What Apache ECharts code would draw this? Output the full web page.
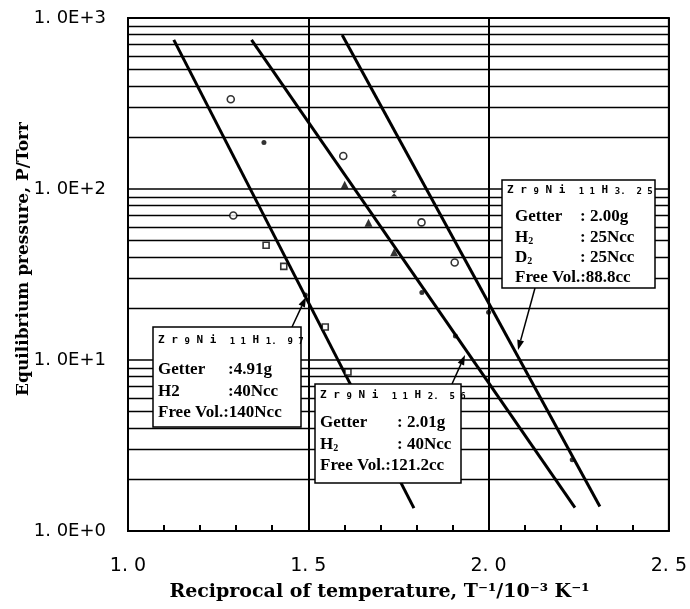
<!DOCTYPE html>
<html>
<head>
<meta charset="utf-8">
<script src="https://cdn.jsdelivr.net/npm/echarts@6/dist/echarts.min.js"></script>
<style>html,body{margin:0;padding:0;background:#fff;}#c{width:690px;height:609px;}</style>
</head>
<body>
<div id="c"></div>
<script>
// ---- data ----
var xTicks = [1.0, 1.5, 2.0, 2.5];
var yDecades = [1, 10, 100, 1000];
var minorGridY = [2,3,4,5,6,7,8,9,20,30,40,50,60,70,80,90,200,300,400,500,600,700,800,900];
// fitted lines (start, end) : [1/T, P]
var lineH197 = [[1.127, 745], [1.793, 1.36]];
var lineH256 = [[1.3425, 745], [2.2395, 1.37]];
var lineH325 = [[1.594, 796], [2.3086, 1.39]];
// measured points by symbol
var ptsCircle = [[1.285, 335], [1.292, 70], [1.597, 156], [1.814, 63.8], [1.906, 37.2]];
var ptsSquare = [[1.383, 46.9], [1.432, 35.3], [1.547, 15.6], [1.610, 8.5]];
var ptsTriangle = [[1.601, 106], [1.667, 63.4], [1.738, 42.6]];
var ptsCross = [[1.738, 94]];
var ptsDot = [[1.377, 187], [1.492, 24], [1.815, 24.8], [1.908, 13.8], [2.0, 19], [2.232, 2.61]];

var chart = echarts.init(document.getElementById('c'), null, {renderer: 'canvas'});

var serifB = 'DejaVu Serif';
var boxFont = 'Liberation Serif';

function lineSeries(d, extra) {
  var s = {type: 'line', data: d, showSymbol: false, symbol: 'none', silent: true,
    lineStyle: {color: '#000', width: 3}, z: 5};
  if (extra) for (var k in extra) s[k] = extra[k];
  return s;
}

function arrow(x1, y1, x2, y2) {
  var dx = x2 - x1, dy = y2 - y1, L = Math.sqrt(dx*dx + dy*dy);
  var ux = dx / L, uy = dy / L, hl = 10, hw = 3.5;
  var bx = x2 - ux*hl, by = y2 - uy*hl;
  return [
    {type: 'line', shape: {x1: x1, y1: y1, x2: bx, y2: by}, style: {stroke: '#000', lineWidth: 1.5}, z: 20},
    {type: 'polygon', shape: {points: [[x2, y2], [bx - uy*hw, by + ux*hw], [bx + uy*hw, by - ux*hw]]}, style: {fill: '#000'}, z: 20}
  ];
}

function txt(x, y, t, extra) {
  var st = {text: t, x: x, y: y, fill: '#000', font: 'bold 17px "' + boxFont + '"', textVerticalAlign: 'middle', textAlign: 'left'};
  if (extra) for (var k in extra) st[k] = extra[k];
  return {type: 'text', style: st, z: 31};
}

var titleRich = {
  m: {fontFamily: 'DejaVu Sans Mono', fontWeight: 'bold', fontSize: 11, color: '#000'},
  s: {fontFamily: 'DejaVu Sans Mono', fontWeight: 'bold', fontSize: 9, color: '#000', verticalAlign: 'bottom', padding: [4,0,0,0]}
};
function formulaText(x, y, a, b) {
  return {type: 'text', z: 31, style: {x: x, y: y, textVerticalAlign: 'middle',
    text: '{m|Z r }{s|9}{m| N i  }{s|1 1}{m| H }{s|' + a + '.  ' + b + '}',
    rich: titleRich}};
}
var subRich = {
  b: {fontFamily: boxFont, fontWeight: 'bold', fontSize: 17, color: '#000'},
  u: {fontFamily: boxFont, fontWeight: 'bold', fontSize: 10, color: '#000', verticalAlign: 'bottom'}
};
function subText(x, y, a, b) {
  return {type: 'text', z: 31, style: {x: x, y: y, textVerticalAlign: 'middle', text: '{b|' + a + '}{u|' + b + '}', rich: subRich}};
}
function rect(x, y, w, h) {
  return {type: 'rect', shape: {x: x, y: y, width: w, height: h}, style: {fill: '#fff', stroke: '#000', lineWidth: 1.5}, z: 30};
}

var graphics = [];
// box 1
graphics.push(rect(153, 327, 148, 100));
graphics.push(formulaText(158, 340, '1', '9 7'));
graphics.push(txt(158, 370, 'Getter'), txt(228, 370, ':4.91g'));
graphics.push(txt(158, 392, 'H2'), txt(228, 392, ':40Ncc'));
graphics.push(txt(158, 413, 'Free Vol.:140Ncc'));
// box 2
graphics.push(rect(315, 384, 146, 99));
graphics.push(formulaText(320, 395, '2', '5 6'));
graphics.push(txt(320, 423, 'Getter'), txt(397, 423, ': 2.01g'));
graphics.push(subText(320, 445, 'H', '2'), txt(397, 445, ': 40Ncc'));
graphics.push(txt(320, 466, 'Free Vol.:121.2cc'));
// box 3
graphics.push(rect(502, 180, 153, 108));
graphics.push(formulaText(507, 190, '3', '2 5'));
graphics.push(txt(515, 217, 'Getter'), txt(580, 217, ': 2.00g'));
graphics.push(subText(515, 238, 'H', '2'), txt(580, 238, ': 25Ncc'));
graphics.push(subText(515, 258, 'D', '2'), txt(580, 258, ': 25Ncc'));
graphics.push(txt(515, 278, 'Free Vol.:88.8cc'));
// arrows
graphics = graphics.concat(arrow(292, 327, 306, 297));
graphics = graphics.concat(arrow(452, 384, 465, 355));
graphics = graphics.concat(arrow(535, 288, 518, 350));

var option = {
  animation: false,
  backgroundColor: '#fff',
  grid: {left: 128, right: 19, top: 18, bottom: 78, show: true, borderColor: '#000', borderWidth: 2, backgroundColor: 'transparent'},
  xAxis: {
    type: 'value', min: xTicks[0], max: xTicks[xTicks.length - 1], interval: 0.5,
    axisLine: {show: true, lineStyle: {color: '#000', width: 2}},
    axisTick: {show: true, inside: true, length: 6, lineStyle: {color: '#000', width: 2}},
    minorTick: {show: true, splitNumber: 5, length: 6, lineStyle: {color: '#000', width: 2}},
    splitLine: {show: true, lineStyle: {color: '#000', width: 2}},
    axisLabel: {color: '#000', fontFamily: 'DejaVu Sans', fontSize: 19, margin: 26,
      formatter: function (v) { return v.toFixed(1).replace('.', '. '); }},
    name: 'Reciprocal of temperature, T\u207B\u00B9/10\u207B\u00B3 K\u207B\u00B9',
    nameLocation: 'middle', nameGap: 52, nameMoveOverlap: false,
    nameTextStyle: {color: '#000', fontFamily: serifB, fontWeight: 'bold', fontSize: 19, padding: [0, 38, 0, 0]}
  },
  yAxis: {
    type: 'log', logBase: 10, min: yDecades[0], max: yDecades[yDecades.length - 1],
    axisLine: {show: true, lineStyle: {color: '#000', width: 2}},
    axisTick: {show: false},
    splitLine: {show: true, lineStyle: {color: '#000', width: 1.5}},
    axisLabel: {color: '#000', fontFamily: 'DejaVu Sans', fontSize: 18, margin: 22,
      formatter: function (v) { return '1. 0E+' + Math.round(Math.log10(v)); }},
    name: 'Equilibrium pressure, P/Torr',
    nameLocation: 'middle', nameGap: 96, nameRotate: 90, nameMoveOverlap: false,
    nameTextStyle: {color: '#000', fontFamily: serifB, fontWeight: 'bold', fontSize: 17, padding: [0, 0, 0, 31]}
  },
  series: [
    lineSeries(lineH197, {markLine: {silent: true, symbol: 'none', label: {show: false},
      lineStyle: {color: '#000', width: 1.3, type: 'solid'},
      data: minorGridY.map(function (v) { return {yAxis: v}; })}}),
    lineSeries(lineH256),
    lineSeries(lineH325),
    {type: 'scatter', data: ptsCircle, symbol: 'circle', symbolSize: [7, 7], z: 6,
      itemStyle: {color: '#fff', borderColor: '#000', borderWidth: 1.6}},
    {type: 'scatter', data: ptsSquare, symbol: 'rect', symbolSize: 6, z: 6,
      itemStyle: {color: '#fff', borderColor: '#000', borderWidth: 1.6}},
    {type: 'scatter', data: ptsTriangle, symbol: 'triangle', symbolSize: 8, z: 6,
      itemStyle: {color: '#000'}},
    {type: 'scatter', data: ptsCross, symbol: 'path://M0,0L10,0L5,5L10,10L0,10L5,5Z', symbolSize: 6, z: 6,
      itemStyle: {color: '#000'}},
    {type: 'scatter', data: ptsDot, symbol: 'circle', symbolSize: 5, z: 6,
      itemStyle: {color: '#000'}}
  ],
  graphic: graphics
};
chart.setOption(option);
</script>
</body>
</html>
